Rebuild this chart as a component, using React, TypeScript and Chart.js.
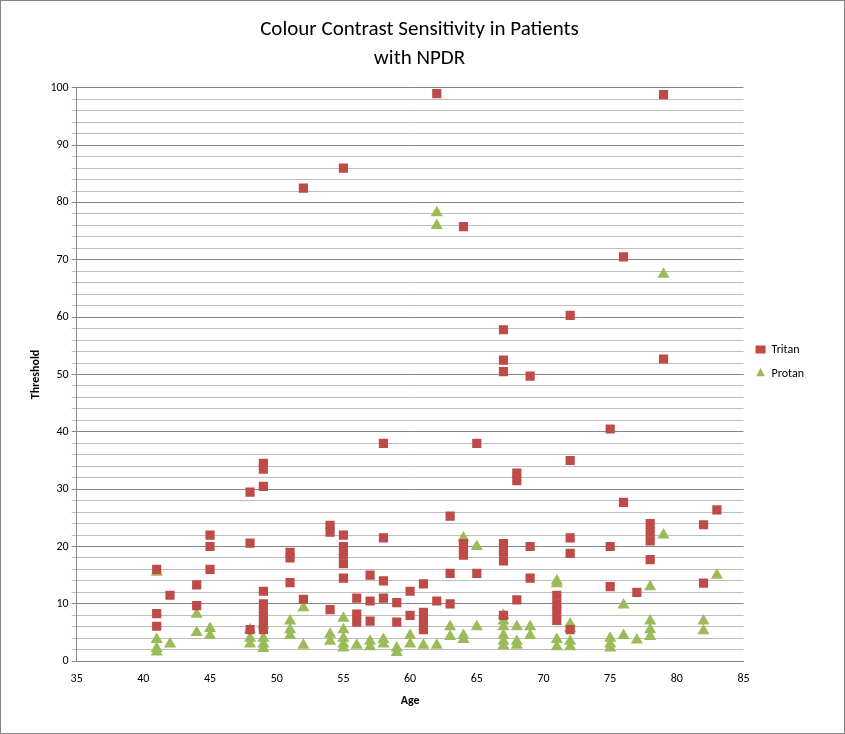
import React, { useEffect, useRef } from "react";
import { Chart, registerables } from "chart.js";
Chart.register(...registerables);

const tritanX = [41,41,41,42,44,44,45,45,45,48,48,48,49,49,49,49,49,49,49,49,51,51,51,52,52,54,54,54,55,55,55,55,55,55,56,56,56,57,57,57,58,58,58,58,59,59,60,60,61,61,61,61,62,62,63,63,63,64,64,64,64,65,65,67,67,67,67,67,67,67,68,68,68,69,69,69,71,71,71,71,72,72,72,72,72,75,75,75,76,76,77,78,78,78,78,79,79,82,82,83];
const tritanY = [16,8.3,6.1,11.5,13.3,9.7,22,20,16,29.5,20.6,5.5,34.5,33.5,30.5,12.2,10,8.5,7,5.5,19,18,13.7,82.5,10.8,23.7,22.5,9,86,22,20,18.5,17,14.5,11,8.2,6.8,15,10.5,7,38,21.5,14,11,10.2,6.8,12.2,8,13.5,8.5,7,5.5,99,10.5,25.3,15.3,10,75.8,20.5,19.5,18.5,38,15.3,57.8,52.5,50.5,20.5,19,17.5,8,32.8,31.5,10.7,49.7,20,14.5,11.5,10,8.7,7.1,60.3,35,21.5,18.8,5.5,40.5,20,13,70.5,27.7,12,24,22.5,21,17.7,98.8,52.7,23.8,13.6,26.4];
const protanX = [41,41,41,41,42,44,44,45,45,48,48,48,49,49,49,49,51,51,51,52,52,54,54,55,55,55,55,55,56,57,57,58,58,59,59,60,60,61,62,62,62,63,63,64,64,64,65,65,67,67,67,67,67,67,68,68,68,69,69,71,71,71,71,72,72,72,72,75,75,75,76,76,77,78,78,78,78,79,79,82,82,83];
const protanY = [15.5,3.8,2.2,1.6,3,8.2,5,5.7,4.5,5.5,4,3,6.3,4,3,2.2,7,5.5,4.5,9.3,2.8,4.7,3.5,7.5,5.5,4,3,2.3,2.8,3.5,2.5,3.8,3,2.3,1.5,4.5,3,2.8,78.2,76,2.8,6,4.3,21.5,4.5,3.8,20,6,8,7,6,4.5,3.5,2.7,6,3.5,2.8,6,4.5,14,13.5,3.8,2.5,6.5,5.7,3.5,2.5,4,3,2.3,9.8,4.5,3.7,13,7,5.5,4.3,67.5,22,7,5.3,15];
const titleLines = ["Colour Contrast Sensitivity in Patients", "with NPDR"];

const font = "Calibri, 'Liberation Sans', 'Open Sans', sans-serif";

export default function App() {
  const ref = useRef<HTMLCanvasElement>(null);
  useEffect(() => {
    document.body.style.margin = "0";
    const mk = (xs: number[], ys: number[]) => xs.map((x, i) => ({ x, y: ys[i] }));
    const chart = new Chart(ref.current!, {
      type: "scatter",
      data: {
        datasets: [
          { label: "Tritan", data: mk(tritanX, tritanY), pointStyle: "rect", backgroundColor: "#BE4B48", borderColor: "#BE4B48", borderWidth: 0, pointRadius: 6.5, pointHoverRadius: 6.5 },
          { label: "Protan", data: mk(protanX, protanY), pointStyle: "triangle", backgroundColor: "#9BBB59", borderColor: "#9BBB59", borderWidth: 0, pointRadius: 7, pointHoverRadius: 7 },
        ],
      },
      options: {
        animation: false,
        responsive: false,
        layout: { padding: { left: 24, right: 30, top: 10, bottom: 21 } },
        plugins: {
          title: { display: true, text: titleLines, color: "#000", font: { family: font, size: 21, weight: "normal", lineHeight: 1.4 }, padding: { top: 4, bottom: 14 } },
          legend: {
            position: "right",
            labels: { usePointStyle: true, pointStyleWidth: 10, boxHeight: 8, color: "#000", font: { family: font, size: 12 }, padding: 12 },
          },
          tooltip: { enabled: false },
        },
        scales: {
          x: {
            min: 35, max: 85,
            ticks: { stepSize: 5, color: "#000", font: { family: font, size: 12 } },
            grid: { display: false, drawTicks: true },
            border: { color: "#868686" },
            title: { display: true, text: "Age", color: "#000", font: { family: font, size: 12, weight: "bold" } },
          },
          y: {
            min: 0, max: 100,
            ticks: {
              stepSize: 2, autoSkip: false, color: "#000", font: { family: font, size: 12 },
              callback: (v: any) => (v % 10 === 0 ? String(v) : ""),
            },
            grid: {
              color: (c: any) => (c.tick && c.tick.value % 10 === 0 ? "#868686" : "#BDBDBD"),
              tickLength: 5,
            },
            border: { color: "#868686" },
            title: { display: true, text: "Threshold", color: "#000", font: { family: font, size: 12, weight: "bold" } },
          },
        },
      },
    });
    return () => chart.destroy();
  }, []);
  return (
    <div style={{ width: 843, height: 732, border: "1px solid #868686" }}>
      <canvas ref={ref} width={843} height={732} />
    </div>
  );
}
